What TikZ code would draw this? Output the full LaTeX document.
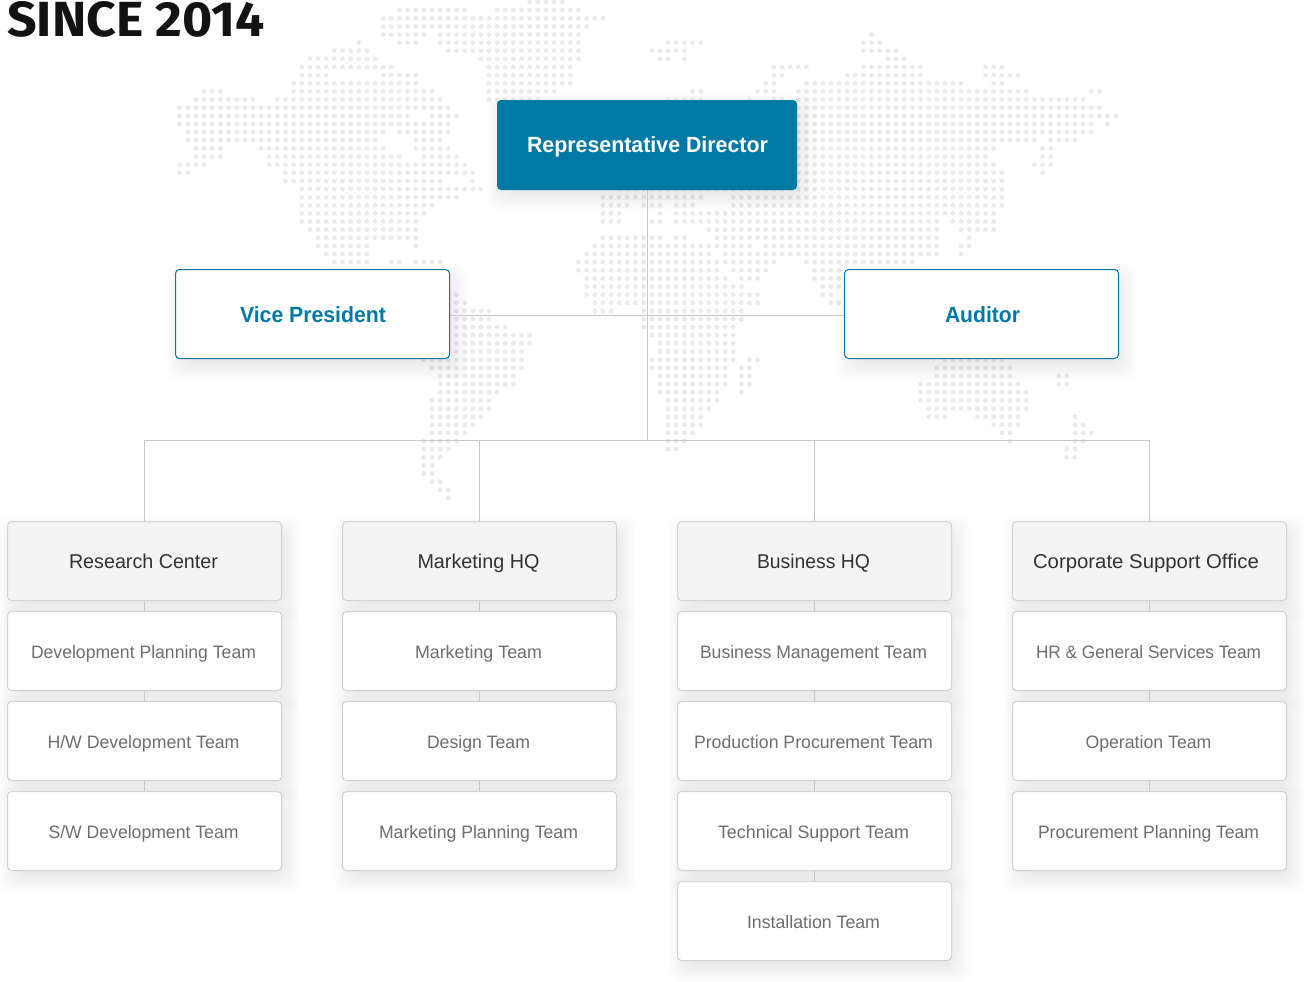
\documentclass[tikz,border=0pt]{standalone}
\usepackage{fontspec}
\setmainfont{Liberation Sans}
\newfontfamily\titlefont{Fira Sans}
\usetikzlibrary{calc}
\pgfdeclarelayer{dots}\pgfdeclarelayer{shad}\pgfdeclarelayer{conn}
\pgfsetlayers{dots,shad,conn,main}
\definecolor{teal}{HTML}{0079A5}
\definecolor{dotc}{HTML}{E9E9E9}
\definecolor{linec}{HTML}{C8C8C8}
\definecolor{edgec}{HTML}{D2D2D2}
\definecolor{headf}{HTML}{F4F4F4}
\definecolor{headt}{HTML}{333333}
\definecolor{teamt}{HTML}{6E6E6E}
\definecolor{titlec}{HTML}{121212}
\newcommand\fitx[2]{\setbox0\hbox{#2}\pgfmathsetmacro\fitr{#1*0.75/\wd0}\scalebox{\fitr}[1]{\box0}}
\newcommand\fitl[2]{\fitx{#1}{#2}\kern1.5pt}
\newcommand\dotrow[2]{\fill[dotc] \foreach \a/\b in {#2} { \foreach \j in {\a,...,\b} { ({179.67+8.14*\j},{2+8.13*#1}) circle[radius=2.35] } };}
\tikzset{
  boxbase/.style={inner sep=0pt,outer sep=0pt,rounded corners=3pt,align=center,text depth=0pt},
  dirbox/.style={boxbase,minimum width=225pt,minimum height=67.5pt,fill=teal,text=white,font=\fontsize{16.5pt}{20pt}\selectfont\bfseries,text height=11.8pt},
  sidebox/.style={boxbase,minimum width=205.5pt,minimum height=66.75pt,draw=teal,line width=.75pt,fill=white,text=teal,font=\fontsize{16.5pt}{20pt}\selectfont\bfseries,text height=13.3pt},
  headbox/.style={boxbase,minimum width=205.5pt,minimum height=59.25pt,draw=edgec,line width=.75pt,fill=headf,text=headt,font=\fontsize{15pt}{18pt}\selectfont,text height=10.74pt},
  teambox/.style={boxbase,minimum width=205.5pt,minimum height=59.25pt,draw=edgec,line width=.75pt,fill=white,text=teamt,font=\fontsize{13.5pt}{16pt}\selectfont,text height=11.17pt},
  wire/.style={draw=linec,line width=.75pt},
}
\begin{document}
\begin{tikzpicture}[x=0.75pt,y=-0.75pt]
\useasboundingbox (0,0) rectangle (1304,982);

\node[anchor=west,inner sep=0pt,text=titlec,font=\titlefont\fontsize{37pt}{40pt}\selectfont\bfseries,text height=25.5pt,text depth=0pt] (title) at (7,19.7) {\fitx{257.5}{SINCE 2014}};

\node[dirbox] (dir) at (647,145) {\kern.75pt\fitx{241}{Representative Director}};
\node[sidebox] (vp) at (312.5,314) {\kern.75pt\fitx{146}{Vice President}};
\node[sidebox] (aud) at (981.5,314) {\kern1.5pt\fitx{75}{Auditor}};

\node[headbox] (h1) at (144.5,561) {\fitl{149}{Research Center}};
\node[teambox] (a1) at (144.5,651) {\fitl{225}{Development Planning Team}};
\node[teambox] (a2) at (144.5,741) {\fitl{192}{H/W Development Team}};
\node[teambox] (a3) at (144.5,831) {\fitl{190}{S/W Development Team}};

\node[headbox] (h2) at (479.5,561) {\fitl{122}{Marketing HQ}};
\node[teambox] (b1) at (479.5,651) {\fitl{127}{Marketing Team}};
\node[teambox] (b2) at (479.5,741) {\fitl{103}{Design Team}};
\node[teambox] (b3) at (479.5,831) {\fitl{199}{Marketing Planning Team}};

\node[headbox] (h3) at (814.5,561) {\fitl{113}{Business HQ}};
\node[teambox] (c1) at (814.5,651) {\fitl{227}{Business Management Team}};
\node[teambox] (c2) at (814.5,741) {\fitl{239}{Production Procurement Team}};
\node[teambox] (c3) at (814.5,831) {\fitl{191}{Technical Support Team}};
\node[teambox] (c4) at (814.5,921) {\fitl{133}{Installation Team}};

\node[headbox] (h4) at (1149.5,561) {\fitx{226}{Corporate Support Office}\kern5.25pt};
\node[teambox] (d1) at (1149.5,651) {\fitl{225}{HR \& General Services Team}};
\node[teambox] (d2) at (1149.5,741) {\fitl{126}{Operation Team}};
\node[teambox] (d3) at (1149.5,831) {\fitl{221}{Procurement Planning Team}};

\coordinate (hub) at (647.5,440.5);
\coordinate (mid) at (647.5,315.5);

\begin{pgfonlayer}{conn}
\draw[wire] (hub |- dir.south) -- (hub);
\draw[wire] (mid -| vp.east) -- (mid -| aud.west);
\draw[wire] (h1.north) -- (h1.north |- hub) -- (h4.north |- hub) -- (h4.north);
\draw[wire] (h2.north) -- (h2.north |- hub);
\draw[wire] (h3.north) -- (h3.north |- hub);
\draw[wire] (h1) -- (a1); \draw[wire] (a1) -- (a2); \draw[wire] (a2) -- (a3);
\draw[wire] (h2) -- (b1); \draw[wire] (b1) -- (b2); \draw[wire] (b2) -- (b3);
\draw[wire] (h3) -- (c1); \draw[wire] (c1) -- (c2); \draw[wire] (c2) -- (c3); \draw[wire] (c3) -- (c4);
\draw[wire] (h4) -- (d1); \draw[wire] (d1) -- (d2); \draw[wire] (d2) -- (d3);
\end{pgfonlayer}

\begin{pgfonlayer}{shad}
\foreach \n in {dir,vp,aud,h1,a1,a2,a3,h2,b1,b2,b3,h3,c1,c2,c3,c4,h4,d1,d2,d3}{
  \foreach \e in {-14,-12,...,14}{
    \fill[black,opacity=.0065,rounded corners=9pt]
      ($(\n.south west)+(5-\e,8+\e)$) rectangle ($(\n.north east)+(5+\e,8-\e)$);
  }
}
\end{pgfonlayer}

\begin{pgfonlayer}{dots}
\fill[white] (0,0) rectangle (1304,982);
\dotrow{0}{43/47}
\dotrow{1}{27/35,39/49}
\dotrow{2}{25/52}
\dotrow{3}{25/50}
\dotrow{4}{25/30,32/49,85}
\dotrow{5}{22,27/29,32/49,60/64,84/86}
\dotrow{6}{19/23,33/49,58/62,84/88}
\dotrow{7}{16/24,37/49,59/60,62,87/89}
\dotrow{8}{15/26,38/48,73/77,84/91,99/101}
\dotrow{9}{15/18,25/29,38/48,73/74,82/91,99/103}
\dotrow{10}{14/29,38/48,72/73,77/96,100/101}
\dotrow{11}{3/5,14/31,38/46,63/64,71/73,76/104,112/113}
\dotrow{12}{2/9,12/32,38/44,60/64,70,73/74,76/111}
\dotrow{13}{0/33,76/113}
\dotrow{14}{0/28,31/34,76/115}
\dotrow{15}{0/33,76/112,114}
\dotrow{16}{1/25,27/33,76/112}
\dotrow{17}{1/24,29/32,76/105,107/110}
\dotrow{18}{2/5,10/25,29/33,76/100,106/107}
\dotrow{19}{2/5,11/27,30/34,76/99,106/107}
\dotrow{20}{0/3,11/35,76/100,105/107}
\dotrow{21}{0/1,13/36,76/101,106}
\dotrow{22}{13/32,36,76/101}
\dotrow{23}{15/37,54/101}
\dotrow{24}{15/34,52/64,68/101}
\dotrow{25}{15/31,52/55,57/59,61/63,68/101}
\dotrow{26}{15/30,52/54,59,61/100}
\dotrow{27}{15/29,52/54,58/59,61/93,95/100}
\dotrow{28}{16/29,65/93,96/100}
\dotrow{29}{17/29,52/59,61/62,66/93,97}
\dotrow{30}{17/23,29,51/70,72/93,96/97}
\dotrow{31}{18/23,50/65,67/93,96}
\dotrow{32}{19/23,26/27,29/32,49/73,77/90}
\dotrow{33}{49/66,68/72,78/81}
\dotrow{34}{50/67,69/71,78/81}
\dotrow{35}{50/69,79/81}
\dotrow{36}{34,50/71,79/80}
\dotrow{37}{34/35,51/71,80/81}
\dotrow{38}{34/38,51/53,57/69}
\dotrow{39}{34/38,57/69}
\dotrow{40}{34/40,57/68}
\dotrow{41}{34/43,58/68}
\dotrow{42}{34/43,59/68}
\dotrow{43}{34/42,59/68}
\dotrow{44}{30/42,58/68,70/71,94/101}
\dotrow{45}{31/42,58/67,69/70,93/102}
\dotrow{46}{32/41,59/67,69/70,93/102,108/109}
\dotrow{47}{32/41,59/67,69/70,91/103,108/109}
\dotrow{48}{32/39,59/66,69,91/104}
\dotrow{49}{31/38,60/66,91/104}
\dotrow{50}{31/38,60/65,92/104}
\dotrow{51}{31/37,60/64,92/94,98/103,110}
\dotrow{52}{31/36,60/64,100/103,110/111}
\dotrow{53}{31/35,60/63,101/102,110/112}
\dotrow{54}{30/34,60/62,102,110/111}
\dotrow{55}{30/33,60/61,109/110}
\dotrow{56}{30/32,109/110}
\dotrow{57}{30/31}
\dotrow{58}{30/31}
\dotrow{59}{31/32}
\dotrow{60}{32/33}
\dotrow{61}{33}
\end{pgfonlayer}
\end{tikzpicture}
\end{document}
